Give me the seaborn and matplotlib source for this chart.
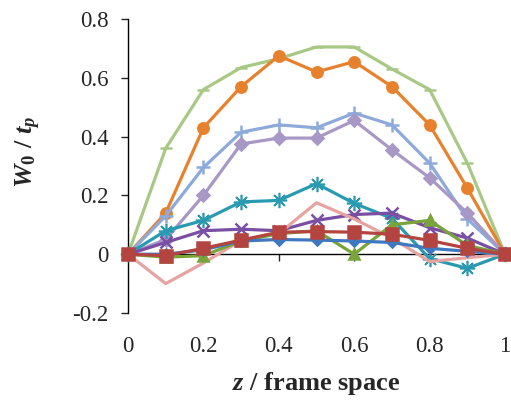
import numpy as np
import pandas as pd
import seaborn as sns
import matplotlib
matplotlib.use('Agg')
import matplotlib.pyplot as plt

# data
z = [0, 0.1, 0.2, 0.3, 0.4, 0.5, 0.6, 0.7, 0.8, 0.9, 1.0]

s_green = [0, 0.36, 0.56, 0.635, 0.665, 0.705, 0.705, 0.63, 0.56, 0.31, 0]
s_orange = [0, 0.14, 0.43, 0.57, 0.675, 0.62, 0.655, 0.57, 0.44, 0.225, 0]
s_lblue = [0, 0.13, 0.295, 0.415, 0.44, 0.43, 0.48, 0.44, 0.31, 0.12, 0]
s_lavender = [0, 0.05, 0.2, 0.375, 0.395, 0.395, 0.455, 0.355, 0.26, 0.14, 0]
s_teal = [0, 0.08, 0.115, 0.178, 0.183, 0.24, 0.173, 0.122, -0.015, -0.048, 0]
s_purple = [0, 0.04, 0.08, 0.085, 0.08, 0.115, 0.135, 0.14, 0.09, 0.055, 0]
s_pink = [0, -0.1, -0.03, 0.047, 0.07, 0.175, 0.12, 0.055, -0.025, -0.012, 0]
s_olive = [0, -0.01, -0.005, 0.045, 0.07, 0.08, 0.0, 0.1, 0.115, 0.03, 0]
s_blue = [0, 0.0, 0.015, 0.045, 0.05, 0.048, 0.045, 0.04, 0.02, 0.01, 0]
s_red = [0, -0.005, 0.02, 0.048, 0.075, 0.077, 0.075, 0.068, 0.047, 0.02, 0]

x_ticks = [0, 0.2, 0.4, 0.6, 0.8, 1]
x_ticklabels = ['0', '0.2', '0.4', '0.6', '0.8', '1']
y_ticks = [-0.2, 0, 0.2, 0.4, 0.6, 0.8]
y_ticklabels = ['-0.2', '0', '0.2', '0.4', '0.6', '0.8']

# (values, color, marker, markersize)
series = [
    (s_green, '#A8C985', '_', 8),
    (s_orange, '#E8812E', 'o', 7.5),
    (s_lblue, '#8DAADB', '+', 10),
    (s_lavender, '#A898C6', 'D', 6),
    (s_teal, '#2A9AB0', '*', 0),
    (s_purple, '#7A4FA3', 'x', 9),
    (s_pink, '#E6A3A1', None, 0),
    (s_olive, '#78A43A', '^', 7),
    (s_blue, '#3F78BE', 'D', 5),
    (s_red, '#B3443F', 's', 8.5),
]

sns.set_style('ticks')
plt.rcParams['font.family'] = ['Liberation Serif', 'DejaVu Serif']
plt.rcParams['mathtext.fontset'] = 'custom'
plt.rcParams['mathtext.it'] = 'Liberation Serif:bold:italic'
plt.rcParams['mathtext.rm'] = 'Liberation Serif:bold'

fig = plt.figure(figsize=(5.11, 4.03), dpi=100)
ax = fig.add_axes([0.2505, 0.2233, 0.7378, 0.7295])

for i, (vals, col, mk, ms) in enumerate(series):
    df = pd.DataFrame({'z': z, 'w': vals})
    kw = dict(marker=mk, markersize=ms) if mk else {}
    if mk == '*':
        # asterisk-like marker drawn as an 8-spoke star
        kw = dict(marker=(8, 2, 0), markersize=11, markeredgewidth=1.2)
    sns.lineplot(data=df, x='z', y='w', ax=ax, color=col, lw=2.3,
                 markeredgecolor=col, markeredgewidth=kw.pop('markeredgewidth', 1.8),
                 zorder=2 + i, clip_on=False, **kw)

ax.set_xlim(0, 1)
ax.set_ylim(-0.2, 0.8)
ax.set_xticks(x_ticks)
ax.set_xticklabels(x_ticklabels)
ax.set_yticks(y_ticks)
ax.set_yticklabels(y_ticklabels)

ax.spines['top'].set_visible(False)
ax.spines['right'].set_visible(False)
ax.spines['bottom'].set_position(('data', 0))
ax.spines['bottom'].set_zorder(1)
for sp in ['left', 'bottom']:
    ax.spines[sp].set_linewidth(1.0)
    ax.spines[sp].set_color('black')

ax.tick_params(axis='y', direction='out', length=5, width=1, labelsize=16.5, pad=9)
ax.tick_params(axis='x', direction='out', length=5, width=1, labelsize=16.5, pad=54)

ax.set_xlabel('$z$ / frame space', fontsize=19, fontweight='bold')
ax.set_ylabel(r'$W_{\mathit{0}}\ /\ t_p$', fontsize=19)
ax.xaxis.set_label_coords(0.5, -0.195)
ax.yaxis.set_label_coords(-0.225, 0.548)

plt.savefig('out.png', dpi=100)
